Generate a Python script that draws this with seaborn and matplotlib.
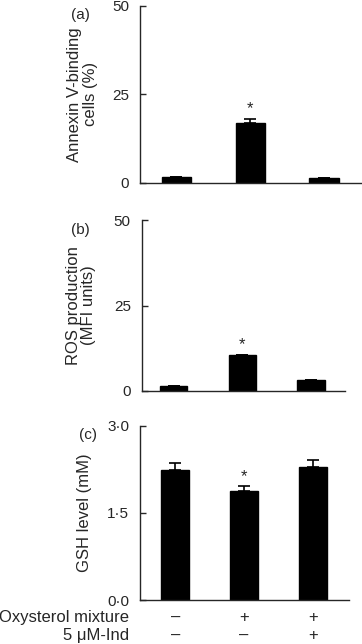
import seaborn as sns
import matplotlib.pyplot as plt
import matplotlib.ticker as mticker
import matplotlib.transforms as mtransforms
import pandas as pd

# Groups: control, oxysterol mixture, oxysterol mixture + 5 uM indomethacin
groups = ["ctrl", "oxy", "oxy_ind"]
oxysterol_signs = ["\u2013", "+", "+"]
ind_signs = ["\u2013", "\u2013", "+"]

annexin_mean = [1.8, 17.0, 1.5]
annexin_err = [0.0, 0.9, 0.0]

ros_mean = [1.4, 10.5, 3.1]
ros_err = [0.0, 0.0, 0.0]

gsh_mean = [2.24, 1.88, 2.29]
gsh_err = [0.12, 0.09, 0.12]

sig = [False, True, False]

sns.set_style("ticks")
plt.rcParams["font.family"] = ["Liberation Sans", "DejaVu Sans"]

fig = plt.figure(figsize=(3.62, 6.44), dpi=100)

panels = [
    dict(rect=[0.387, 0.716, 0.613, 0.275], mean=annexin_mean, err=annexin_err,
         ymax=50, ticks=[0, 25, 50], fmt="{:.0f}", label="Annexin V-binding\ncells (%)",
         tag="(a)", tagpos=(0.221, 0.987), star_off=3.0, xlim=(-0.49, 2.51), labx=-0.26),
    dict(rect=[0.392, 0.393, 0.561, 0.265], mean=ros_mean, err=ros_err,
         ymax=50, ticks=[0, 25, 50], fmt="{:.0f}", label="ROS production\n(MFI units)",
         tag="(b)", tagpos=(0.221, 0.654), star_off=3.0, xlim=(-0.46, 2.49), labx=-0.30),
    dict(rect=[0.387, 0.068, 0.577, 0.271], mean=gsh_mean, err=gsh_err,
         ymax=3.0, ticks=[0, 1.5, 3.0], fmt="{:.1f}", label="GSH level (mM)",
         tag="(c)", tagpos=(0.243, 0.335), star_off=0.16, xlim=(-0.51, 2.52), labx=-0.265),
]

for p in panels:
    ax = fig.add_axes(p["rect"])
    df = pd.DataFrame({"group": groups, "value": p["mean"]})
    sns.barplot(data=df, x="group", y="value", color="black", width=0.4,
                saturation=1, ax=ax, errorbar=None)
    for patch in ax.patches:
        patch.set_edgecolor("black")
    xs = list(range(len(groups)))
    up = list(p["err"])
    ax.errorbar(xs, p["mean"], yerr=[[0] * len(up), up], fmt="none",
                ecolor="black", elinewidth=1.2, capsize=4.5, capthick=1.2)
    for i, s in enumerate(sig):
        if s:
            ax.text(i, p["mean"][i] + p["err"][i] + p["star_off"], "*",
                    ha="center", va="center", fontsize=12)
    ax.set_ylim(0, p["ymax"])
    ax.set_xlim(*p["xlim"])
    ax.set_yticks(p["ticks"])
    ax.yaxis.set_major_formatter(mticker.FuncFormatter(
        lambda v, pos, f=p["fmt"]: f.format(v).replace(".", "\u00b7")))
    ax.set_xlabel("")
    ax.set_ylabel(p["label"], fontsize=12, linespacing=1.05)
    ax.yaxis.label.set_va("center")
    ax.yaxis.set_label_coords(p["labx"], 0.5)
    ax.tick_params(axis="y", direction="in", length=4, width=1, labelsize=11, pad=8)
    ax.tick_params(axis="x", length=0)
    ax.set_xticks(xs)
    ax.set_xticklabels([])
    sns.despine(ax=ax)
    for sp in ["left", "bottom"]:
        ax.spines[sp].set_linewidth(1)
    fig.text(p["tagpos"][0], p["tagpos"][1], p["tag"], ha="center", va="top", fontsize=11)

# sign rows under the last panel
ax = fig.axes[-1]
row_tr = mtransforms.blended_transform_factory(ax.transData, fig.transFigure)
for i in range(len(groups)):
    ax.text(i, 0.041, oxysterol_signs[i], ha="center", va="center", fontsize=12,
            transform=row_tr)
    ax.text(i, 0.013, ind_signs[i], ha="center", va="center", fontsize=12,
            transform=row_tr)
fig.text(0.357, 0.041, "Oxysterol mixture", ha="right", va="center", fontsize=12)
fig.text(0.357, 0.013, "5 \u03bcM-Ind", ha="right", va="center", fontsize=12)

fig.savefig("out.png", dpi=100)
